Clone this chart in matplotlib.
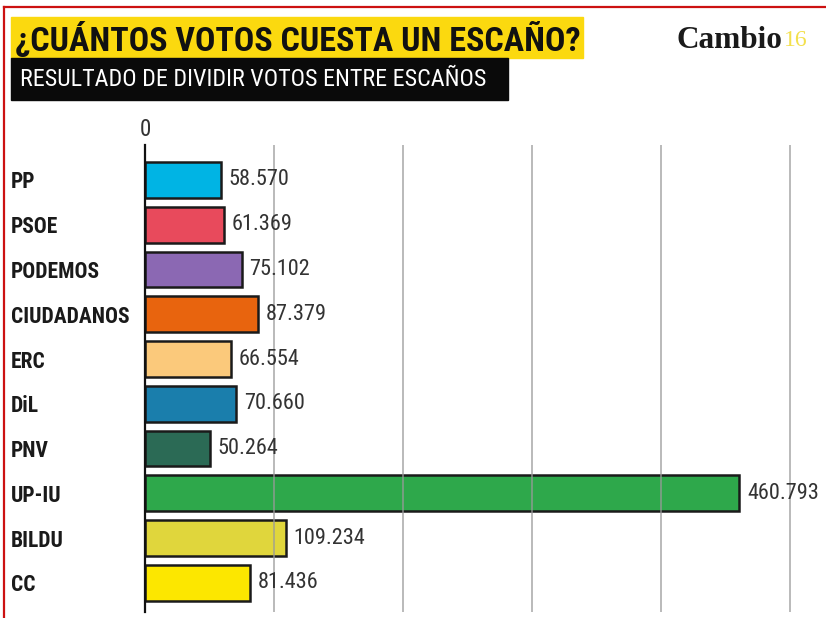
import matplotlib.pyplot as plt
from matplotlib.patches import Rectangle
from matplotlib.lines import Line2D
from matplotlib import font_manager as fm

partidos = ['PP', 'PSOE', 'PODEMOS', 'CIUDADANOS', 'ERC', 'DiL', 'PNV', 'UP-IU', 'BILDU', 'CC']
votos_por_escano = [58570, 61369, 75102, 87379, 66554, 70660, 50264, 460793, 109234, 81436]
colores = ['#00b4e4', '#e84a5c', '#8b68b3', '#e8640e', '#fbc97b', '#1a7eac',
           '#2b6a55', '#2ea84b', '#e0d63c', '#fce700']
grid_ticks = [100000, 200000, 300000, 400000, 500000]

W, H = 826, 618


def find_font(keys):
    # busca un fichero de fuente estrecha entre las instaladas
    for k in keys:
        for f in fm.fontManager.ttflist:
            if k.lower() in f.fname.lower().replace(' ', '').replace('_', ''):
                return fm.FontProperties(fname=f.fname)
    return None


bold_c = find_font(['RobotoCondensed-Bold.', 'LiberationSansNarrow-Bold.', 'DejaVuSansCondensed-Bold.',
                    'OpenSansCondensed-Bold.'])
reg_c = find_font(['RobotoCondensed-Regular.', 'LiberationSansNarrow-Regular.', 'DejaVuSansCondensed.',
                   'OpenSansCondensed-Light.'])
if bold_c is None:
    bold_c = fm.FontProperties(family='DejaVu Sans', weight='bold', stretch='condensed')
if reg_c is None:
    reg_c = fm.FontProperties(family='DejaVu Sans', stretch='condensed')


def fp(base, size):
    p = base.copy()
    p.set_size(size)
    return p


def px(x, y):
    # pixel coords (top-left origin) -> figure fraction
    return x / W, 1 - y / H


def fmt(v):
    return '{:,}'.format(v).replace(',', '.')


def fit(t, width, size):
    # reduce el tamano hasta que el texto quepa en width pixeles
    r = fig.canvas.get_renderer()
    while t.get_window_extent(r).width > width and size > 5:
        size -= 0.25
        t.set_fontsize(size)
    return t


fig = plt.figure(figsize=(W / 100, H / 100), dpi=100)
fig.canvas.draw()

# marco rojo
fig.add_artist(Line2D([4 / W, 1], [1 - 7 / H] * 2, color='#cc1111', lw=1.6, transform=fig.transFigure))
fig.add_artist(Line2D([4 / W, 4 / W], [0, 1 - 7 / H], color='#cc1111', lw=1.6, transform=fig.transFigure))

# cabecera
fig.add_artist(Rectangle(px(11, 58), 572 / W, 41 / H, color='#fbd90f', transform=fig.transFigure))
fig.add_artist(Rectangle(px(11, 100), 497 / W, 42 / H, color='#0a0a0a', transform=fig.transFigure))
t = fig.text(*px(15, 40), '¿CUÁNTOS VOTOS CUESTA UN ESCAÑO?', fontproperties=fp(bold_c, 27),
             color='#111111', va='center', ha='left')
fit(t, 566, 27)
t = fig.text(*px(20, 80), 'RESULTADO DE DIVIDIR VOTOS ENTRE ESCAÑOS', fontproperties=fp(reg_c, 18),
             color='white', va='center', ha='left')
fit(t, 470, 18)
logo = fig.text(*px(677, 40), 'Cambio', family=['Liberation Serif', 'DejaVu Serif'], weight='bold',
                fontsize=24, color='#1a1a1a', va='center', ha='left')
fit(logo, 106, 24)

ax = fig.add_axes([145 / W, 6 / H, (810 - 145) / W, (612 - 145) / H])
y = list(range(len(partidos)))
ax.barh(y, votos_por_escano, height=0.8, color=colores, edgecolor='#1a1a1a', linewidth=1.8, zorder=2)
for g in grid_ticks:
    ax.axvline(g, color='#9a9a9a', lw=1.2, alpha=0.8, zorder=3)
ax.set_xlim(0, 515500)
ax.set_ylim(9.65, -0.78)
ax.set_yticks(y)
ax.set_yticklabels(partidos, fontproperties=fp(bold_c, 15.5), color='#1a1a1a')
for lab in ax.get_yticklabels():
    lab.set_ha('left')
ax.tick_params(axis='y', length=0, pad=(145 - 11) * 0.72)
ax.set_xticks([])
ax.text(0, -1.12, '0', ha='center', va='center', fontproperties=fp(reg_c, 16.5), color='#333333')
for i, v in enumerate(votos_por_escano):
    ax.text(v + 6000, i, fmt(v), va='center', ha='left', fontproperties=fp(reg_c, 16), color='#333333')
for s in ['top', 'right', 'bottom']:
    ax.spines[s].set_visible(False)
ax.spines['left'].set_color('#111111')
ax.spines['left'].set_linewidth(1.6)

fig.canvas.draw()
bb = logo.get_window_extent()
fig.text(bb.x1 / W + 0.001, px(0, 41)[1], '16', family=['Liberation Serif', 'DejaVu Serif'],
         fontsize=17, color='#f3e04c', va='center', ha='left')

fig.savefig('out.png', dpi=100)
